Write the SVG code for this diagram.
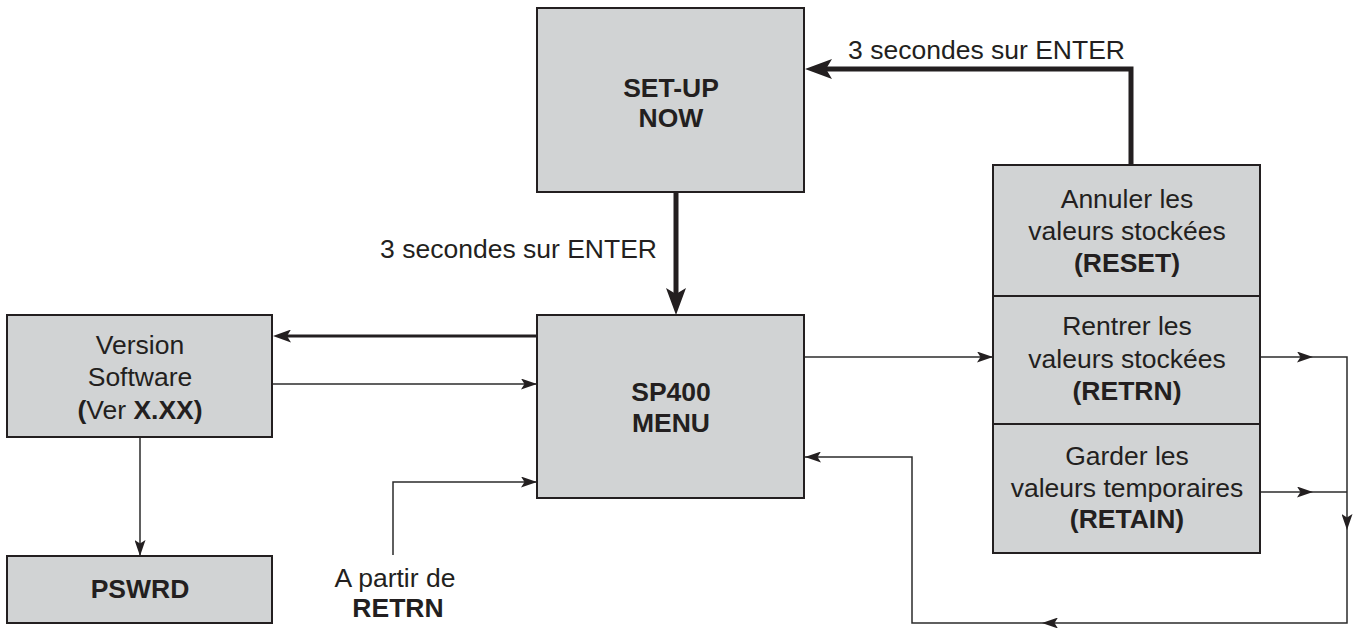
<svg xmlns="http://www.w3.org/2000/svg" width="1358" height="628" viewBox="0 0 1358 628">
<style>
.box{fill:#d1d3d4;stroke:#231f20;stroke-width:2}
text{font-family:"Liberation Sans",Arial,Helvetica,sans-serif;font-size:26.5px;fill:#231f20;text-anchor:middle}
.b{font-weight:bold}
.thin{fill:none;stroke:#2b2b2b;stroke-width:1.5}
.med{fill:none;stroke:#231f20;stroke-width:3}
.thick{fill:none;stroke:#231f20;stroke-width:5}
</style>
<defs>
<marker id="at" viewBox="0 0 16 11" refX="16" refY="5.5" markerWidth="16" markerHeight="11" markerUnits="userSpaceOnUse" orient="auto"><path d="M0,0 L16,5.5 L0,11 L3.5,5.5 Z" fill="#231f20"/></marker>
<marker id="am" viewBox="0 0 18 13" refX="12" refY="6.5" markerWidth="18" markerHeight="13" markerUnits="userSpaceOnUse" orient="auto"><path d="M0,0 L18,6.5 L0,13 L4,6.5 Z" fill="#231f20"/></marker>
<marker id="ak" viewBox="0 0 27 20" refX="17" refY="10" markerWidth="27" markerHeight="20" markerUnits="userSpaceOnUse" orient="auto"><path d="M0,0 L27,10 L0,20 L6,10 Z" fill="#231f20"/></marker>
</defs>
<rect width="1358" height="628" fill="#fff"/>
<g id="connectors">
<path class="thick" d="M676,192 V305" marker-end="url(#ak)"/>
<path class="thick" d="M1131,165 V69 H815" marker-end="url(#ak)"/>
<path class="med" d="M537,336 H279" marker-end="url(#am)"/>
<path class="thin" d="M272,384 H537" marker-end="url(#at)"/>
<path class="thin" d="M140,437 V556" marker-end="url(#at)"/>
<path class="thin" d="M393,555 V482 H537" marker-end="url(#at)"/>
<path class="thin" d="M804,357 H993" marker-end="url(#at)"/>
<path class="thin" d="M1260,357 H1313" marker-end="url(#at)"/>
<path class="thin" d="M1313,357 H1347 V530" marker-end="url(#at)"/>
<path class="thin" d="M1260,492 H1313" marker-end="url(#at)"/>
<path class="thin" d="M1313,492 H1347"/>
<path class="thin" d="M1347,530 V623 H1042" marker-end="url(#at)"/>
<path class="thin" d="M1042,623 H912 V457 H805" marker-end="url(#at)"/>
<text x="1125" y="59" style="text-anchor:end">3 secondes sur ENTER</text>
<text x="657" y="258" style="text-anchor:end">3 secondes sur ENTER</text>
<text x="395" y="587">A partir de</text>
<text x="398" y="617" class="b">RETRN</text>
</g>
<g id="setup">
<rect class="box" x="537" y="8" width="267" height="184"/>
<text x="671" y="97" class="b">SET-UP</text>
<text x="671" y="127" class="b">NOW</text>
</g>
<g id="sp400">
<rect class="box" x="537" y="315" width="267" height="183"/>
<text x="671" y="401" class="b">SP400</text>
<text x="671" y="432" class="b">MENU</text>
</g>
<g id="version">
<rect class="box" x="7" y="315" width="265" height="122"/>
<text x="140" y="354">Version</text>
<text x="140" y="386">Software</text>
<text x="140" y="419"><tspan class="b">(</tspan>Ver <tspan class="b">X.XX)</tspan></text>
</g>
<g id="pswrd">
<rect class="box" x="7" y="556" width="265" height="67"/>
<text x="140" y="598" class="b">PSWRD</text>
</g>
<g id="reset">
<rect class="box" x="993" y="165" width="267" height="131"/>
<text x="1127" y="208">Annuler les</text>
<text x="1127" y="240">valeurs stockées</text>
<text x="1127" y="272" class="b">(RESET)</text>
</g>
<g id="retrn">
<rect class="box" x="993" y="296" width="267" height="128"/>
<text x="1127" y="335">Rentrer les</text>
<text x="1127" y="368">valeurs stockées</text>
<text x="1127" y="400" class="b">(RETRN)</text>
</g>
<g id="retain">
<rect class="box" x="993" y="424" width="267" height="129"/>
<text x="1127" y="465">Garder les</text>
<text x="1127" y="497">valeurs temporaires</text>
<text x="1127" y="528" class="b">(RETAIN)</text>
</g>
</svg>
